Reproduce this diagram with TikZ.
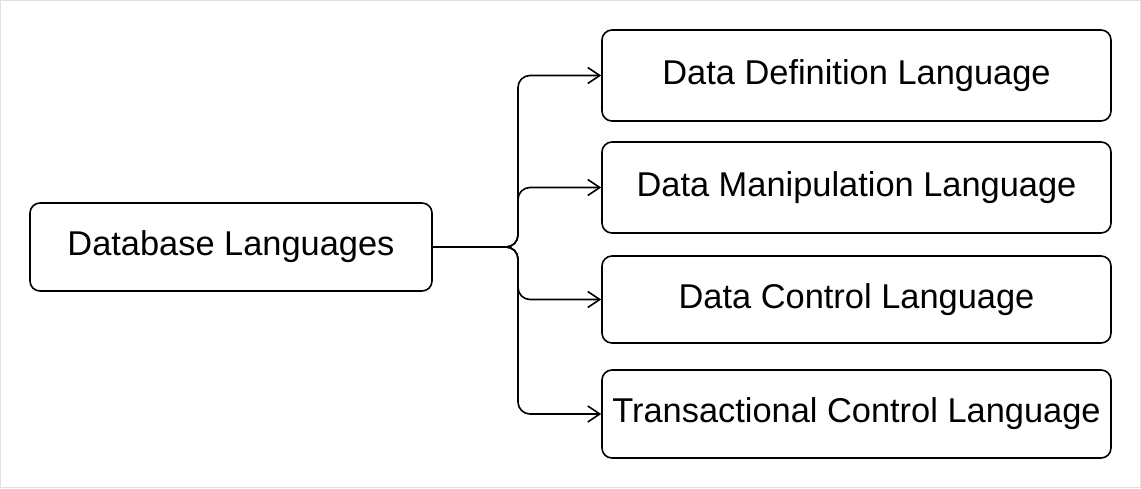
\documentclass[tikz,border=0pt]{standalone}
\usepackage{fontspec}
\setmainfont{Liberation Sans}
\usetikzlibrary{arrows.meta,positioning,calc}

\begin{document}
\begin{tikzpicture}[x=0.5pt,y=-0.5pt,
    langbox/.style={draw, rounded corners=5pt, line width=0.8pt, inner sep=0pt,
        font=\fontsize{17.2}{20}\selectfont},
    branch/.style={-{Straight Barb[length=6pt,width=8pt]}, line width=0.8pt, rounded corners=6pt}]

        % frame of the picture
        \useasboundingbox (0,0) rectangle (1141,488);
        \draw[black!12, line width=0.5pt] (0.5,0.5) rectangle (1140.5,487.5);

        % draw the root box
        \node[langbox, minimum width=201pt, minimum height=44pt] (db) at (231,247) {Database Languages};

        % draw the language boxes
        \node[langbox, minimum width=254.5pt, minimum height=45.5pt] (ddl) at (856.5,75.5) {Data Definition Language};
        \node[langbox, minimum width=254.5pt, minimum height=45.5pt] (dml) at (856.5,187.5) {Data Manipulation Language};
        \node[langbox, minimum width=254.5pt, minimum height=43.5pt] (dcl) at (856.5,299.5) {Data Control Language};
        \node[langbox, minimum width=254.5pt, minimum height=44pt] (tcl) at (856.5,414) {Transactional Control Language};

        % split point of the connectors
        \coordinate (split) at (518,247);

        % draw the connecting arrows
        \draw[branch] (db.east) -- (split) |- (ddl.west);
        \draw[branch] (db.east) -- (split) |- (dml.west);
        \draw[branch] (db.east) -- (split) |- (dcl.west);
        \draw[branch] (db.east) -- (split) |- (tcl.west);

\end{tikzpicture}
\end{document}
